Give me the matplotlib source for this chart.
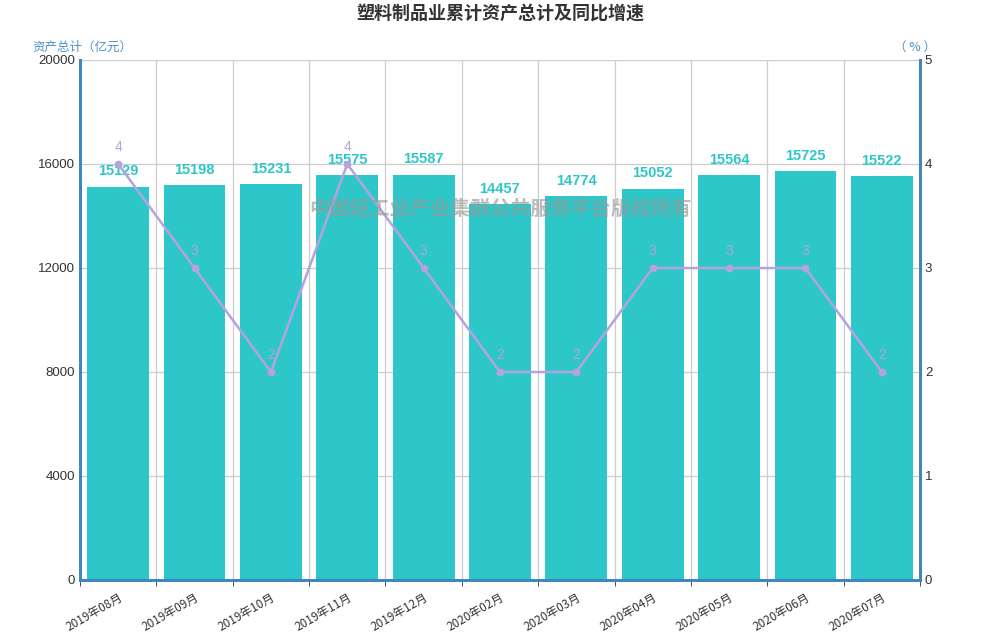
import matplotlib
matplotlib.use("Agg")
import matplotlib.pyplot as plt
import numpy as np

plt.rcParams["font.family"] = ["Noto Sans CJK SC", "DejaVu Sans"]
plt.rcParams["axes.unicode_minus"] = False

# ---------- 数据 ----------
months = ["2019年08月", "2019年09月", "2019年10月", "2019年11月", "2019年12月", "2020年02月",
          "2020年03月", "2020年04月", "2020年05月", "2020年06月", "2020年07月"]
assets = [15129, 15198, 15231, 15575, 15587, 14457, 14774, 15052, 15564, 15725, 15522]
growth = [4, 3, 2, 4, 3, 2, 2, 3, 3, 3, 2]

BAR = "#2ec7c9"
LINE = "#b6a2de"
AXIS = "#3f86c0"
GRID = "#cccccc"

fig = plt.figure(figsize=(10, 6.4), dpi=100)
ax = fig.add_axes([0.08, 1 - 580 / 640, 0.84, 520 / 640])
ax2 = ax.twinx()

x = np.arange(len(months))
bars = ax.bar(x, assets, width=0.81, color=BAR, zorder=2)
for b, v in zip(bars, assets):
    ax.annotate(f"{v}", (b.get_x() + b.get_width() / 2, v), xytext=(0, 6), textcoords="offset points",
                ha="center", va="bottom", color=BAR, fontsize=10.5, fontweight="bold",
                family=["Liberation Sans", "DejaVu Sans"], zorder=5)

ax2.plot(x, growth, color=LINE, lw=1.8, marker="o", ms=4.5, zorder=4)
for xi, g in zip(x, growth):
    ax2.annotate(f"{g}", (xi, g), xytext=(0, 7), textcoords="offset points",
                 ha="center", va="bottom", color=LINE, fontsize=10,
                 family=["Liberation Sans", "DejaVu Sans"], zorder=5)

ax.set_xlim(-0.5, len(months) - 0.5)
ax.set_ylim(0, 20000)
ax2.set_ylim(0, 5)
ax.set_yticks(np.arange(0, 20001, 4000))
ax2.set_yticks(np.arange(0, 6, 1))

ax.set_xticks(x)
ax.set_xticklabels(months, rotation=30, ha="right", rotation_mode="anchor", fontsize=8.5, color="#333333")
ax.set_xticks(np.arange(-0.5, len(months)), minor=True)
ax.tick_params(axis="x", which="major", length=0, pad=8)
ax.tick_params(axis="x", which="minor", length=4, color="#333333")
ax.tick_params(axis="y", length=0, labelsize=9, colors="#333333")
ax2.tick_params(axis="y", length=0, labelsize=9, colors="#333333")
for t in ax.get_yticklabels() + ax2.get_yticklabels():
    t.set_family(["Liberation Sans", "DejaVu Sans"])
    t.set_fontsize(9.5)

ax.grid(axis="y", color=GRID, lw=0.9, zorder=0)
ax.grid(axis="x", which="minor", color=GRID, lw=0.9, zorder=0)
ax.set_axisbelow(True)

for a in (ax, ax2):
    a.spines["top"].set_visible(False)
    a.spines["left"].set_color(AXIS)
    a.spines["right"].set_color(AXIS)
    a.spines["bottom"].set_color(AXIS)
    for s in ("left", "right", "bottom"):
        a.spines[s].set_linewidth(2)

fig.text(0.5, 1 - 14 / 640, "塑料制品业累计资产总计及同比增速", ha="center", va="center",
         fontsize=13, fontweight="bold", color="#333333")
fig.text(0.032, 1 - 47 / 640, "资产总计（亿元）", ha="left", va="center", fontsize=9, color="#4b8fcc")
fig.text(0.936, 1 - 47 / 640, "（ % ）", ha="right", va="center", fontsize=9, color="#4b8fcc")
fig.text(0.5, 1 - 208 / 640, "中国轻工业产业集群公共服务平台版权所有", ha="center", va="center",
         fontsize=14.5, fontweight="bold", color="#999999", alpha=0.65, zorder=10)

fig.savefig("out.png", dpi=100)
